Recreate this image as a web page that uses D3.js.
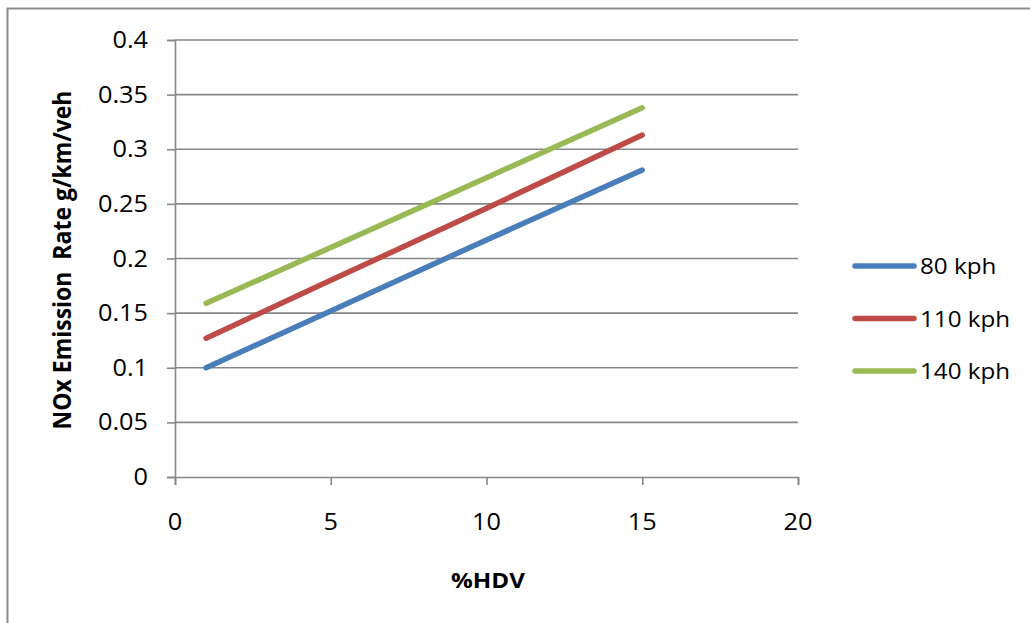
<!DOCTYPE html>
<html>
<head>
<meta charset="utf-8">
<script src="https://cdn.jsdelivr.net/npm/d3@7"></script>
<style>
  html, body { margin: 0; padding: 0; background: #fff; }
  svg { display: block; }
  text { font-family: "Open Sans", "Liberation Sans", sans-serif; fill: #000; }
</style>
</head>
<body>
<svg id="chart" width="1030" height="623"></svg>
<script>
// NOx emission rate vs. share of heavy-duty vehicles, by speed
const hdvShare = [1, 5, 10, 15];
const seriesNames = ["80 kph", "110 kph", "140 kph"];
const rate80 = [0.100, 0.152, 0.217, 0.281];
const rate110 = [0.127, 0.180, 0.246, 0.313];
const rate140 = [0.159, 0.210, 0.274, 0.338];
const xTicks = [0, 5, 10, 15, 20];
const yTicks = [0, 0.05, 0.1, 0.15, 0.2, 0.25, 0.3, 0.35, 0.4];
const xTitle = "%HDV";
const yTitle = "NOx Emission\u00a0 Rate g/km/veh";

const seriesColors = ["#4a7ebb", "#be4b48", "#98b954"];
const seriesValues = [rate80, rate110, rate140];

const svg = d3.select("#chart");
const gridColor = "#878787";
const stretch = 1.1;

// outer chart frame
svg.append("rect")
  .attr("x", 7.5).attr("y", 8.5)
  .attr("width", 1040).attr("height", 640)
  .attr("fill", "none").attr("stroke", "#898989").attr("stroke-width", 2);

const x = d3.scaleLinear().domain([0, 20]).range([175, 798]);
const y = d3.scaleLinear().domain([0, 0.4]).range([477, 40]);

// horizontal gridlines
svg.append("g").selectAll("line")
  .data(yTicks.slice(1))
  .join("line")
  .attr("x1", x(0)).attr("x2", x(20))
  .attr("y1", d => y(d)).attr("y2", d => y(d))
  .attr("stroke", gridColor).attr("stroke-width", 1.6);

// axes
const yAxis = svg.append("g")
  .attr("transform", `translate(${x(0)},0)`)
  .call(d3.axisLeft(y).tickValues(yTicks).tickSize(8).tickPadding(0).tickFormat(d => String(+d.toFixed(2))));
const xAxis = svg.append("g")
  .attr("transform", `translate(0,${y(0)})`)
  .call(d3.axisBottom(x).tickValues(xTicks).tickSize(8).tickFormat(d3.format("d")));

[yAxis, xAxis].forEach(g => {
  g.select(".domain").attr("stroke", gridColor).attr("stroke-width", 1.6);
  g.selectAll(".tick line").attr("stroke", gridColor).attr("stroke-width", 1.6);
  g.selectAll(".tick text").remove();
});

// tick labels (slightly widened glyphs)
svg.append("g").selectAll("text")
  .data(yTicks)
  .join("text")
  .attr("transform", d => `translate(148,${y(d) + 8}) scale(${stretch},1)`)
  .attr("text-anchor", "end")
  .attr("font-size", 23)
  .text(d => String(+d.toFixed(2)));

svg.append("g").selectAll("text")
  .data(xTicks)
  .join("text")
  .attr("transform", d => `translate(${x(d)},530) scale(${stretch},1)`)
  .attr("text-anchor", "middle")
  .attr("font-size", 23)
  .text(d => d);

// axis titles
svg.append("text")
  .attr("transform", `translate(488,588) scale(${stretch},1)`)
  .attr("text-anchor", "middle")
  .attr("font-size", 22).attr("font-weight", "bold")
  .text(xTitle);

svg.append("text")
  .attr("transform", `translate(71,260) rotate(-90) scale(1,${stretch})`)
  .attr("text-anchor", "middle")
  .attr("font-size", 23).attr("font-weight", "bold")
  .text(yTitle);

// series lines
const line = d3.line()
  .x((d, i) => x(hdvShare[i]))
  .y(d => y(d));

svg.append("g").selectAll("path")
  .data(seriesValues)
  .join("path")
  .attr("d", d => line(d))
  .attr("fill", "none")
  .attr("stroke", (d, i) => seriesColors[i])
  .attr("stroke-width", 5.5)
  .attr("stroke-linecap", "round")
  .attr("stroke-linejoin", "round");

// legend
const legend = svg.append("g").selectAll("g")
  .data(seriesNames)
  .join("g")
  .attr("transform", (d, i) => `translate(0,${266 + i * 52.5})`);

legend.append("line")
  .attr("x1", 855).attr("x2", 914)
  .attr("stroke", (d, i) => seriesColors[i])
  .attr("stroke-width", 5.5)
  .attr("stroke-linecap", "round");

legend.append("text")
  .attr("transform", `translate(920,8) scale(${stretch},1)`)
  .attr("font-size", 22)
  .text(d => d);
</script>
</body>
</html>
